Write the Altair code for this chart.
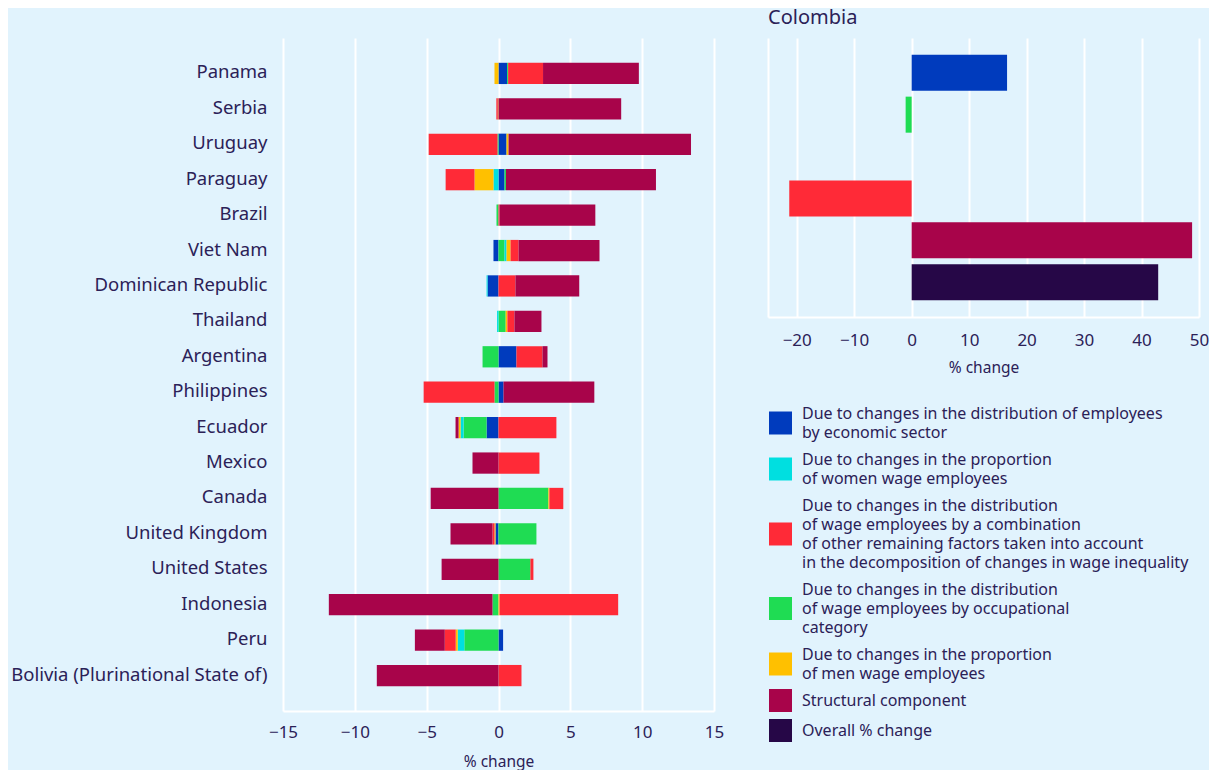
import altair as alt
import pandas as pd

BG = "#e1f3fd"
TXT = "#2b2157"
FONT = "Noto Sans"

countries = ["Panama", "Serbia", "Uruguay", "Paraguay", "Brazil", "Viet Nam",
             "Dominican Republic", "Thailand", "Argentina", "Philippines", "Ecuador",
             "Mexico", "Canada", "United Kingdom", "United States", "Indonesia", "Peru",
             "Bolivia (Plurinational State of)"]

sector =       [0.60, 0.00, 0.56, 0.42, 0.00, -0.35, -0.76, 0.00, 1.25, 0.35, -0.83, 0.00, 0.00, -0.21, 0.00, 0.00, 0.32, 0.00]
occupational = [0.07, 0.00, -0.07, 0.10, -0.14, 0.42, 0.00, 0.50, -1.11, -0.28, -1.60, 0.00, 3.47, 2.64, 2.22, -0.42, -2.38, 0.00]
women =        [0.00, 0.00, 0.00, -0.35, 0.00, 0.14, -0.07, -0.10, 0.00, 0.00, -0.21, 0.00, 0.00, 0.00, 0.00, 0.00, -0.46, 0.00]
men =          [-0.28, -0.05, 0.14, -1.32, 0.00, 0.28, 0.00, 0.12, 0.00, 0.00, -0.14, 0.00, 0.07, -0.07, 0.00, 0.07, -0.14, 0.00]
remaining =    [2.43, -0.10, -4.79, -2.01, 0.07, 0.56, 1.18, 0.49, 1.81, -4.93, 4.03, 2.85, 0.97, -0.14, 0.21, 8.26, -0.76, 1.60]
structural =   [6.67, 8.54, 12.70, 10.44, 6.67, 5.63, 4.44, 1.88, 0.35, 6.32, -0.21, -1.81, -4.72, -2.92, -3.96, -11.39, -2.08, -8.47]

colombia_rows = ["sector", "occupational", "women", "remaining", "structural", "overall"]
colombia_vals = {"sector": 16.6, "occupational": -1.05, "remaining": -21.3,
                 "structural": 48.8, "overall": 42.9}

labels = {
    "sector": "Due to changes in the distribution of employees|by economic sector",
    "women": "Due to changes in the proportion|of women wage employees",
    "remaining": "Due to changes in the distribution|of wage employees by a combination|of other remaining factors taken into account|in the decomposition of changes in wage inequality",
    "occupational": "Due to changes in the distribution|of wage employees by occupational|category",
    "men": "Due to changes in the proportion|of men wage employees",
    "structural": "Structural component",
    "overall": "Overall % change",
}
legend_order = ["sector", "women", "remaining", "occupational", "men", "structural", "overall"]
colors = ["#003bbd", "#00dfe0", "#ff2a37", "#1fdc53", "#ffc000", "#a8044a", "#260747"]
stack_order = {"sector": 0, "occupational": 1, "women": 2, "men": 3, "remaining": 4, "structural": 5}

series = {"sector": sector, "occupational": occupational, "women": women,
          "men": men, "remaining": remaining, "structural": structural}

rows = []
for key, vals in series.items():
    for c, v in zip(countries, vals):
        rows.append({"country": c, "component": labels[key], "value": v, "ord": stack_order[key]})
df = pd.DataFrame(rows)

crow = []
for key in colombia_rows:
    if key in colombia_vals:
        crow.append({"row": key, "component": labels[key], "value": colombia_vals[key]})
dfc = pd.DataFrame(crow)

LINE_H = 19
legend_domain = [labels[k] for k in legend_order]


def square_path(label):
    # square symbol centred on a multi-line legend label
    n = label.count("|") + 1
    o = (n - 1) * (LINE_H / 2) / 11.5
    return f"M-1,{o - 1:.3f}H1V{o + 1:.3f}H-1Z"


shape_paths = [square_path(l) for l in legend_domain]

legend = alt.Legend(
    orient="none", legendX=486, legendY=364, title=None,
    symbolSize=529, symbolStrokeWidth=0,
    labelExpr="split(datum.label, '|')", labelFontSize=16, labelFont=FONT,
    labelColor=TXT, labelLimit=600, labelOffset=10, rowPadding=7,
)
color = alt.Color("component:N", scale=alt.Scale(domain=legend_domain, range=colors),
                  legend=legend)
shape = alt.Shape("component:N", scale=alt.Scale(domain=legend_domain, range=shape_paths),
                  legend=legend)

left = alt.Chart(df).mark_bar().encode(
    y=alt.Y("country:N", sort=countries,
            scale=alt.Scale(paddingInner=0.4, paddingOuter=0.7),
            axis=alt.Axis(title=None, ticks=False, domain=False, labelPadding=16,
                          labelFontSize=18.5, labelLimit=400, grid=False, labelOffset=-1)),
    x=alt.X("value:Q", stack="zero",
            scale=alt.Scale(domain=[-15, 15], nice=False, zero=False),
            axis=alt.Axis(values=[-15, -10, -5, 0, 5, 10, 15], title="% change",
                          labelPadding=13, titlePadding=14)),
    color=color,
    order=alt.Order("ord:Q"),
).properties(width=431, height=673,
             title=alt.TitleParams(" ", fontSize=20, anchor="start", offset=10))

bars_c = alt.Chart(dfc).mark_bar().encode(
    y=alt.Y("row:N",
            scale=alt.Scale(domain=colombia_rows, paddingInner=0.14, paddingOuter=0.4),
            axis=alt.Axis(title=None, labels=False, ticks=False, domain=True, grid=False)),
    x=alt.X("value:Q",
            scale=alt.Scale(domain=[-25, 50], nice=False, zero=False),
            axis=alt.Axis(values=[-20, -10, 0, 10, 20, 30, 40, 50], title="% change",
                          labelPadding=15, titlePadding=12)),
    color=color,
)
pts_c = alt.Chart(dfc).mark_point(filled=True, opacity=1).encode(
    y=alt.Y("row:N"), x=alt.X("value:Q"), color=color, shape=shape,
).transform_filter("false")

right = alt.layer(bars_c, pts_c).properties(
    width=431, height=279,
    title=alt.TitleParams("Colombia", fontSize=20, anchor="start", offset=10,
                          font=FONT, color=TXT, fontWeight="normal"))

chart = alt.hconcat(left, right, spacing=44).properties(
    background=BG, padding={"left": 2, "top": 0, "right": 0, "bottom": 0}
).configure(
    style={"guide-label": {"lineHeight": LINE_H}}, font=FONT
).configure_view(stroke=None, fill=BG).configure_axis(
    labelFont=FONT, titleFont=FONT, labelColor=TXT, titleColor=TXT,
    labelFontSize=17, titleFontSize=15.5, titleFontWeight="normal",
    gridColor="white", gridWidth=2, gridOpacity=1,
    domainColor="white", domainWidth=2, ticks=False, labelFlush=False,
    labelPadding=12, titlePadding=14,
).configure_title(font=FONT, color=TXT, fontWeight="normal").configure_legend(
    labelFont=FONT
)

chart.save("out.html", embed_options={"renderer": "svg", "actions": False})
